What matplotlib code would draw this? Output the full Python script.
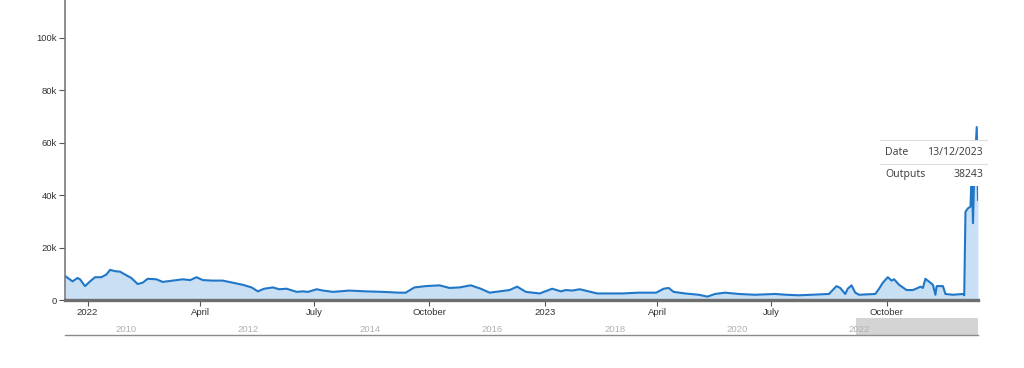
import numpy as np
import pandas as pd
import matplotlib
matplotlib.use("Agg")
import matplotlib.pyplot as plt
from matplotlib.patches import Rectangle
from matplotlib.lines import Line2D

# Werte (Tausender)
dates = [
    "2021-12-14", "2021-12-20", "2021-12-24", "2021-12-26", "2021-12-30",
    "2022-01-03", "2022-01-07", "2022-01-12", "2022-01-16", "2022-01-19",
    "2022-01-23", "2022-01-27", "2022-01-31", "2022-02-05", "2022-02-10",
    "2022-02-14", "2022-02-18", "2022-02-25", "2022-03-02", "2022-03-10",
    "2022-03-18", "2022-03-24", "2022-03-29", "2022-04-03", "2022-04-11",
    "2022-04-19", "2022-04-27", "2022-05-05", "2022-05-12", "2022-05-17",
    "2022-05-22", "2022-05-29", "2022-06-03", "2022-06-09", "2022-06-17",
    "2022-06-22", "2022-06-26", "2022-07-03", "2022-07-08", "2022-07-16",
    "2022-07-29", "2022-08-11", "2022-08-25", "2022-09-07", "2022-09-12",
    "2022-09-19", "2022-09-28", "2022-10-09", "2022-10-17", "2022-10-25",
    "2022-11-03", "2022-11-11", "2022-11-18", "2022-11-26", "2022-12-04",
    "2022-12-10", "2022-12-17", "2022-12-28", "2023-01-07", "2023-01-14",
    "2023-01-18", "2023-01-23", "2023-01-29", "2023-02-12", "2023-03-04",
    "2023-03-17", "2023-03-31", "2023-04-06", "2023-04-10", "2023-04-14",
    "2023-04-23", "2023-05-04", "2023-05-11", "2023-05-17", "2023-05-25",
    "2023-06-05", "2023-06-18", "2023-07-04", "2023-07-13", "2023-07-23",
    "2023-08-02", "2023-08-16", "2023-08-22", "2023-08-25", "2023-08-29",
    "2023-08-31", "2023-09-03", "2023-09-06", "2023-09-09", "2023-09-22",
    "2023-09-25", "2023-09-28", "2023-10-02", "2023-10-05", "2023-10-07",
    "2023-10-11", "2023-10-17", "2023-10-22", "2023-10-26", "2023-10-28",
    "2023-10-30", "2023-11-01", "2023-11-05", "2023-11-07", "2023-11-09",
    "2023-11-10", "2023-11-15", "2023-11-17", "2023-11-23", "2023-12-01",
    "2023-12-02", "2023-12-03", "2023-12-05", "2023-12-07", "2023-12-08",
    "2023-12-09", "2023-12-10", "2023-12-12", "2023-12-13",
]
outputs_k = [
    9.2, 7.1, 8.4, 7.9, 5.3,
    7.1, 8.7, 8.7, 9.7, 11.5,
    11.0, 10.8, 9.7, 8.4, 6.1,
    6.6, 8.1, 7.9, 6.9, 7.4,
    7.9, 7.6, 8.7, 7.6, 7.4,
    7.4, 6.6, 5.8, 4.8, 3.3,
    4.3, 4.8, 4.1, 4.3, 3.1,
    3.3, 3.1, 4.1, 3.6, 3.1,
    3.6, 3.3, 3.1, 2.8, 2.8,
    4.8, 5.3, 5.6, 4.6, 4.8,
    5.6, 4.3, 2.8, 3.3, 3.8,
    5.1, 3.1, 2.5, 4.3, 3.3,
    3.8, 3.6, 4.1, 2.5, 2.5,
    2.8, 2.8, 4.3, 4.6, 3.1,
    2.5, 2.0, 1.3, 2.3, 2.8,
    2.3, 2.0, 2.3, 2.0, 1.8,
    2.0, 2.3, 5.3, 4.6, 2.3,
    4.3, 5.6, 2.8, 2.0, 2.3,
    4.3, 6.6, 8.7, 7.4, 7.9,
    5.8, 3.8, 3.8, 4.6, 5.1,
    4.6, 8.1, 6.6, 5.8, 2.0,
    5.3, 5.3, 2.3, 2.0, 2.3,
    1.8, 33.7, 35.0, 35.6, 50.0,
    29.3, 48.0, 66.0, 38.243,
]

y_ticks = [0, 20000, 40000, 60000, 80000, 100000]
y_tick_labels = ["0", "20k", "40k", "60k", "80k", "100k"]

x_tick_dates = ["2022-01-01", "2022-04-01", "2022-07-01", "2022-10-01",
                "2023-01-01", "2023-04-01", "2023-07-01", "2023-10-01"]
x_tick_labels = ["2022", "April", "July", "October",
                 "2023", "April", "July", "October"]

nav_years = [2010, 2012, 2014, 2016, 2018, 2020, 2022]
nav_start = "2009-01-01"

tooltip_rows = [("Date", "13/12/2023"), ("Outputs", "38243")]

plt.rcParams["font.family"] = ["Liberation Sans", "DejaVu Sans"]

data = pd.DataFrame({"date": pd.to_datetime(dates),
                     "outputs": np.array(outputs_k) * 1000})

W, H = 1024, 368
fig = plt.figure(figsize=(W / 100, H / 100), dpi=100)

# Hauptdiagramm
ax = fig.add_axes([65 / W, 1 - 300 / H, (978 - 65) / W, 300 / H])
line_col = "#2177c7"
ax.fill_between(data["date"], data["outputs"], 0, color="#c9dff4", linewidth=0)
ax.plot(data["date"], data["outputs"], color=line_col, linewidth=1.5)

ax.set_xlim(data["date"].iloc[0], data["date"].iloc[-1])
ax.set_ylim(0, 114500)
ax.set_yticks(y_ticks)
ax.set_yticklabels(y_tick_labels)
ax.set_xticks(pd.to_datetime(x_tick_dates))
ax.set_xticklabels(x_tick_labels)

for s in ("top", "right"):
    ax.spines[s].set_visible(False)
ax.spines["left"].set_color("#7a7a7a")
ax.spines["left"].set_linewidth(1.2)
ax.spines["bottom"].set_color("#6e6e6e")
ax.spines["bottom"].set_linewidth(2.4)
ax.tick_params(axis="both", colors="#555555", labelsize=6.8, length=4,
               width=0.8, labelcolor="#333333")
ax.tick_params(axis="x", pad=2)
ax.tick_params(axis="y", pad=2)

# Navigator unten
nav = fig.add_axes([65 / W, 1 - 335 / H, (978 - 65) / W, 17 / H])
nav.set_xlim(pd.Timestamp(nav_start), data["date"].iloc[-1])
nav.set_ylim(0, 1)
nav.axvspan(data["date"].iloc[0], data["date"].iloc[-1], color="#d4d4d4",
            zorder=1, linewidth=0)
for yr in nav_years:
    nav.text(pd.Timestamp(f"{yr}-01-01"), 0.35, str(yr), ha="center",
             va="center", fontsize=6.8, color="#b0b0b0", zorder=2)
for s in ("top", "right", "left"):
    nav.spines[s].set_visible(False)
nav.spines["bottom"].set_color("#8a8a8a")
nav.spines["bottom"].set_linewidth(1.0)
nav.set_xticks([])
nav.set_yticks([])
nav.patch.set_alpha(0)

# Tooltip
tx0, tx1, ty0, ty1 = 880, 987, 140, 186
fig.patches.append(Rectangle((tx0 / W, 1 - ty1 / H), (tx1 - tx0) / W,
                             (ty1 - ty0) / H, transform=fig.transFigure,
                             facecolor="white", edgecolor="none", zorder=5))
for yl in (ty0, 163.5):
    fig.lines.append(Line2D([tx0 / W, tx1 / W], [1 - yl / H, 1 - yl / H],
                            transform=fig.transFigure, color="#dddddd",
                            linewidth=0.8, zorder=6))
for i, (lab, val) in enumerate(tooltip_rows):
    yy = 1 - (152.5 + i * 22) / H
    fig.text(885 / W, yy, lab, ha="left", va="center", fontsize=7.5,
             color="#444444", family=["Noto Sans", "DejaVu Sans"], zorder=7)
    fig.text(983 / W, yy, val, ha="right", va="center", fontsize=7.5,
             color="#444444", family=["Noto Sans", "DejaVu Sans"], zorder=7)

fig.savefig("out.png", dpi=100)
